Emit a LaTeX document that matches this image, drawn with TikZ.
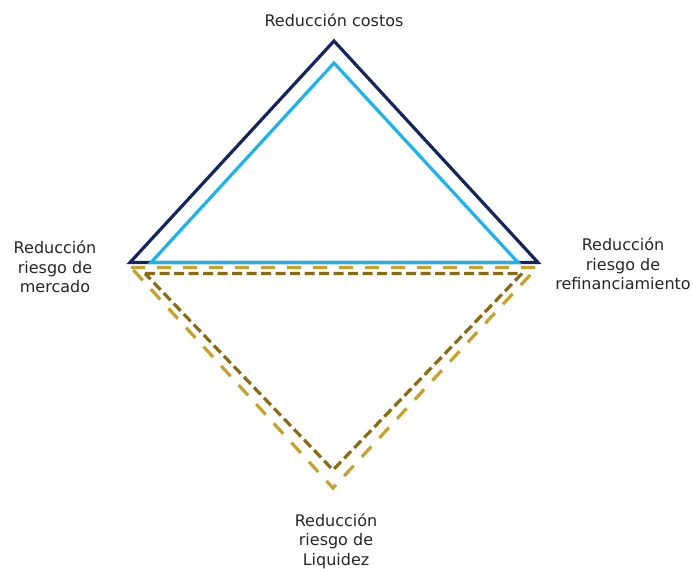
\documentclass[tikz,border=0pt]{standalone}
\usepackage{fontspec}
\setmainfont{DejaVu Sans}
\definecolor{navy}{HTML}{15265E}
\definecolor{skyb}{HTML}{1CB2EA}
\definecolor{goldl}{HTML}{C9A02A}
\definecolor{goldd}{HTML}{8C6A12}
\begin{document}
\begin{tikzpicture}[x=1pt,y=-1pt,
  lbl/.style={align=center,inner sep=0pt,font=\fontsize{16}{19.5}\selectfont,text=black!85},
  navytri/.style={draw=navy,line width=3.2pt,miter limit=10},
  bluetri/.style={draw=skyb,line width=3.2pt},
  golddash/.style={draw=goldl,line width=3.2pt,dash pattern=on 14pt off 12pt},
  darkdash/.style={draw=goldd,line width=3.2pt,dash pattern=on 10pt off 4.5pt}]
\useasboundingbox (0,0) rectangle (693,569);
% vertices
\coordinate (nT) at (334,41);
\coordinate (nL) at (130,262.5);
\coordinate (nR) at (538,262.5);
\coordinate (bT) at (334,63);
\coordinate (bL) at (151,262.5);
\coordinate (bR) at (518,262.5);
\coordinate (gL) at (131,267.5);
\coordinate (gR) at (537,267.5);
\coordinate (gB) at (333,488);
\coordinate (dL) at (145,273.5);
\coordinate (dR) at (522,273.5);
\coordinate (dB) at (333,470);
% triangles
\draw[navytri] (nL) -- (nT) -- (nR) -- cycle;
\draw[bluetri] (bL) -- (bT) -- (bR) -- cycle;
\draw[golddash] (gL) -- (gR) -- (gB) -- cycle;
\draw[darkdash] (dL) -- (dR) -- (dB) -- cycle;
% labels
\node[lbl,anchor=base] (top) at (334,27) {Reducción costos};
\node[lbl] (left) at (55,267) {Reducción\\riesgo de\\mercado};
\node[lbl] (right) at (623,264) {Reducción\\riesgo de\\refinanciamiento};
\node[lbl] (bottom) at (336,541) {Reducción\\riesgo de\\Liquidez};
\end{tikzpicture}
\end{document}
